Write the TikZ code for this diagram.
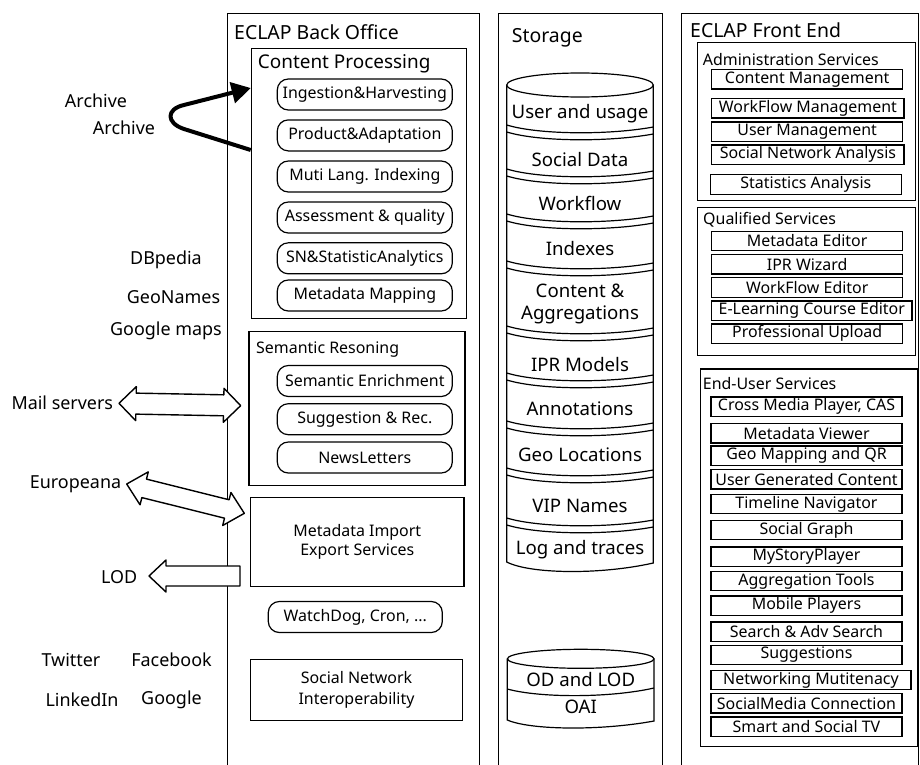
\documentclass[tikz,border=0pt]{standalone}
\usepackage{fontspec}
\setmainfont{Noto Sans}
\usetikzlibrary{arrows.meta}
\begin{document}
\begin{tikzpicture}[x=1bp,y=-1bp,
  panel/.style={draw, line width=1.3bp, anchor=north west, inner sep=0pt},
  grp/.style={draw, line width=1.3bp, anchor=north west, inner sep=0pt},
  pill/.style={draw, line width=1.2bp, rounded corners=11bp, minimum width=175bp,
    minimum height=31bp, inner sep=0pt, font=\fontsize{16}{18}\selectfont},
  svc/.style={draw, line width=1.3bp, minimum width=191bp, minimum height=19.5bp,
    inner sep=0pt, font=\fontsize{16}{17}\selectfont},
  plain/.style={draw, line width=1.3bp, anchor=north west, inner sep=0pt},
  ptitle/.style={anchor=west, inner sep=0pt, font=\fontsize{19.5}{22}\selectfont},
  gtitle/.style={anchor=west, inner sep=0pt, font=\fontsize{16}{18}\selectfont},
  ext/.style={inner sep=0pt, font=\fontsize{18}{21}\selectfont},
  store/.style={inner sep=0pt, align=center, font=\fontsize{18.7}{22}\selectfont},
  cyl/.style={line width=1.2bp},
  block/.style={draw, line width=1.4bp, fill=white, line join=round},
  flow/.style={line width=4bp, line join=round, -{Triangle[length=19bp,width=21bp]}}
]
\useasboundingbox (0,0) rectangle (920,765);
\clip (0,0) rectangle (920,765);

% ---------- three main panels ----------
\node[panel, minimum width=252bp, minimum height=800bp] (bo) at (227,12.7) {};
\node[panel, minimum width=164bp, minimum height=800bp] (st) at (498,12.7) {};
\node[panel, minimum width=237bp, minimum height=800bp] (fe) at (681,12.7) {};
\node[ptitle] (botitle) at (234,31.7) {ECLAP Back Office};
\node[ptitle] (sttitle) at (511.7,38) {Storage};
\node[ptitle] (fetitle) at (690,30) {ECLAP Front End};

% ---------- back office ----------
\node[grp, minimum width=215bp, minimum height=270.3bp] (cp) at (250.7,47.7) {};
\node[ptitle, font=\fontsize{19}{22}\selectfont] (cpt) at (257.7,63.3) {Content Processing};
\node[pill] (p1) at (364.8,94.5) {Ingestion\&Harvesting};
\node[pill] (p2) at (364.8,135.4) {Product\&Adaptation};
\node[pill] (p3) at (364.8,176.5) {Muti Lang. Indexing};
\node[pill] (p4) at (364.8,217.5) {Assessment \& quality};
\node[pill] (p5) at (364.8,258.3) {SN\&StatisticAnalytics};
\node[pill] (p6) at (364.8,295.5) {Metadata Mapping};

\node[grp, minimum width=216bp, minimum height=154.3bp] (sr) at (248.3,330.7) {};
\node[gtitle] (srt) at (256,350) {Semantic Resoning};
\node[pill] (s1) at (364.8,381) {Semantic Enrichment};
\node[pill] (s2) at (364.8,419.2) {Suggestion \& Rec.};
\node[pill] (s3) at (364.8,457.5) {NewsLetters};

\node[plain, minimum width=213.3bp, minimum height=89bp] (mi) at (250,496.7) {};
\node[align=center, inner sep=0pt, font=\fontsize{16}{18.5}\selectfont] (mit) at (mi.center) {Metadata Import\\Export Services};
\node[pill, minimum width=174bp] (wd) at (355.3,617) {WatchDog, Cron, ...};
\node[plain, minimum width=211.7bp, minimum height=61bp] (sn) at (250,659) {};
\node[align=center, inner sep=0pt, font=\fontsize{16}{21}\selectfont] (snt) at (sn.center) {Social Network\\Interoperability};

% ---------- external systems ----------
\node[ext] (ar1) at (96,100.7) {Archive};
\node[ext] (ar2) at (124,127.7) {Archive};
\node[ext] (dbp) at (166,260) {DBpedia};
\node[ext] (geo) at (173.5,297) {GeoNames};
\node[ext] (gmap) at (166,331) {Google maps};
\node[ext] (mail) at (62.3,403) {Mail servers};
\node[ext] (eur) at (75.5,484) {Europeana};
\node[ext] (lod) at (119.2,577) {LOD};
\node[ext] (tw) at (71,660) {Twitter};
\node[ext] (fb) at (171.5,660) {Facebook};
\node[ext] (li) at (82,700) {LinkedIn};
\node[ext] (gg) at (171.5,700) {Google};

% archive harvesting loop
\coordinate (archout) at (cp.west |- 0,150);
\coordinate (archin) at (cp.west |- 0,88);
\draw[flow] (archout) -- (184,129) .. controls (166,123) and (166,109) .. (184,105) -- (archin);

% block arrows
\coordinate (mailend) at (119,403.3);
\coordinate (eurend) at (126.7,484);
\begin{scope}[shift={(mailend)}, rotate=-1.1]
  \draw[block] (0,0) -- (17,-17) -- (17,-10.5) -- (104.7,-10.5) -- (104.7,-17) -- (121.7,0)
    -- (104.7,17) -- (104.7,10.5) -- (17,10.5) -- (17,17) -- cycle;
\end{scope}
\begin{scope}[shift={(eurend)}, rotate=-14]
  \draw[block] (0,0) -- (18,-17) -- (18,-9.5) -- (103.2,-9.5) -- (103.2,-17) -- (121.2,0)
    -- (103.2,17) -- (103.2,9.5) -- (18,9.5) -- (18,17) -- cycle;
\end{scope}
\draw[block] (149,576) -- (166,560) -- (166,566) -- (240,566) -- (240,586) -- (166,586)
  -- (166,592) -- cycle;

% ---------- storage ----------
\draw[cyl] (506.7,85) -- (506.7,562) .. controls (530,574) and (600,575) .. (653.3,563) -- (653.3,85);
\draw[cyl, fill=white] (580,85) ellipse [x radius=73.3, y radius=12];
\foreach \y in {125,169,214,261,326,373,421,468,518}{
  \draw[cyl] (506.7,\y) .. controls (540,\y+10) and (610,\y+10) .. (653.3,\y+2);
  \draw[cyl] (506.7,\y+7) .. controls (540,\y+17) and (610,\y+17) .. (653.3,\y+9);
}
\node[store] (d1) at (580,113.3) {User and usage};
\node[store] (d2) at (580,160) {Social Data};
\node[store] (d3) at (580,203.3) {Workflow};
\node[store] (d4) at (580,248.3) {Indexes};
\node[store] (d5) at (580,304) {Content \&\\Aggregations};
\node[store] (d6) at (580,365) {IPR Models};
\node[store] (d7) at (580,409) {Annotations};
\node[store] (d8) at (580,455) {Geo Locations};
\node[store] (d9) at (580,505.7) {VIP Names};
\node[store] (d10) at (580,550) {Log and traces};

\draw[cyl] (507.3,658.8) -- (507.3,720) .. controls (530,730) and (600,731) .. (654,721) -- (654,658.8);
\draw[cyl, fill=white] (580.7,658.8) ellipse [x radius=73.3, y radius=9.5];
\draw[cyl] (507.3,689) .. controls (540,698) and (610,698) .. (654,688);
\node[store] (o1) at (580.7,680) {OD and LOD};
\node[store] (o2) at (580.7,707.3) {OAI};

% ---------- front end ----------
\node[grp, minimum width=218.3bp, minimum height=158.3bp] (adm) at (696.7,41.7) {};
\node[gtitle] (admt) at (702.7,60) {Administration Services};
\node[svc] (a1) at (807.2,79.3) {Content Management};
\node[svc, minimum width=192.3bp] (a2) at (807.9,108.3) {WorkFlow Management};
\node[svc] (a3) at (807.2,131.7) {User Management};
\node[svc, minimum width=192.3bp] (a4) at (807.9,154.7) {Social Network Analysis};
\node[svc] (a5) at (805.9,184.5) {Statistics Analysis};

\node[grp, minimum width=218.3bp, minimum height=148bp] (qs) at (696.7,206.7) {};
\node[gtitle] (qst) at (703,220) {Qualified Services};
\node[svc] (q1) at (807.2,241) {Metadata Editor};
\node[svc] (q2) at (807.2,264.2) {IPR Wizard};
\node[svc] (q3) at (807.2,287.4) {WorkFlow Editor};
\node[svc, minimum width=200.3bp] (q4) at (811.8,310.6) {E-Learning Course Editor};
\node[svc] (q5) at (807.2,333.8) {Professional Upload};

\node[grp, minimum width=216.7bp, minimum height=377.7bp] (eu) at (700,368.3) {};
\node[gtitle] (eut) at (702.7,384) {End-User Services};
\node[svc] (e1) at (806.5,406.7) {Cross Media Player, CAS};
\node[svc] (e2) at (806.5,433.3) {Metadata Viewer};
\node[svc] (e3) at (806.5,455.7) {Geo Mapping and QR};
\node[svc] (e4) at (806.5,479.3) {User Generated Content};
\node[svc] (e5) at (806.5,504) {Timeline Navigator};
\node[svc] (e6) at (806.5,530) {Social Graph};
\node[svc] (e7) at (806.5,556.7) {MyStoryPlayer};
\node[svc] (e8) at (806.5,581) {Aggregation Tools};
\node[svc] (e9) at (806.5,605.7) {Mobile Players};
\node[svc] (e10) at (806.5,631.7) {Search \& Adv Search};
\node[svc] (e11) at (806.5,655) {Suggestions};
\node[svc, minimum width=200bp] (e12) at (811,680) {Networking Mutitenacy};
\node[svc] (e13) at (806.5,703.3) {SocialMedia Connection};
\node[svc] (e14) at (806.5,726.7) {Smart and Social TV};
\end{tikzpicture}
\end{document}
